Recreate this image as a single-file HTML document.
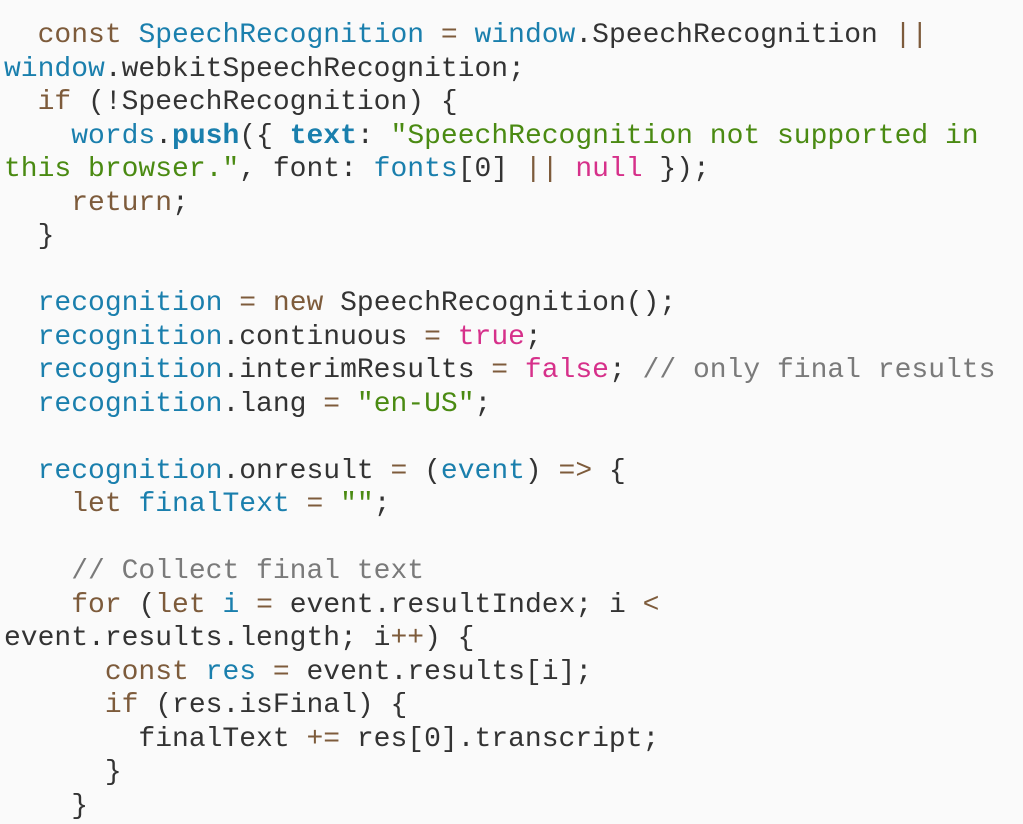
<!DOCTYPE html>
<html>
<head>
<meta charset="utf-8">
<style>
  html, body { margin: 0; padding: 0; }
  body {
    width: 1023px; height: 824px; overflow: hidden;
    background: #fafafa;
  }
  pre {
    margin: 0;
    position: absolute; left: 4px; top: 19px;
    font-family: "Liberation Mono", monospace;
    font-size: 28px;
    line-height: 33.52px;
    color: #333333;
    white-space: pre;
  }
  .k { color: #7d5b3b; }
  .b { color: #1a7fad; }
  .bb { color: #1a7fad; font-weight: bold; }
  .g { color: #4a8a12; }
  .p { color: #d6308a; }
  .c { color: #7a7a7a; }
</style>
</head>
<body>
<pre>  <span class="k">const</span> <span class="b">SpeechRecognition</span> <span class="k">=</span> <span class="b">window</span>.SpeechRecognition <span class="k">||</span>
<span class="b">window</span>.webkitSpeechRecognition;
  <span class="k">if</span> (!SpeechRecognition) {
    <span class="b">words</span>.<span class="bb">push</span>({ <span class="bb">text</span>: <span class="g">"SpeechRecognition not supported in</span>
<span class="g">this browser."</span>, font: <span class="b">fonts</span>[0] <span class="k">||</span> <span class="p">null</span> });
    <span class="k">return</span>;
  }

  <span class="b">recognition</span> <span class="k">=</span> <span class="k">new</span> SpeechRecognition();
  <span class="b">recognition</span>.continuous <span class="k">=</span> <span class="p">true</span>;
  <span class="b">recognition</span>.interimResults <span class="k">=</span> <span class="p">false</span>; <span class="c">// only final results</span>
  <span class="b">recognition</span>.lang <span class="k">=</span> <span class="g">"en-US"</span>;

  <span class="b">recognition</span>.onresult <span class="k">=</span> (<span class="b">event</span>) <span class="k">=&gt;</span> {
    <span class="k">let</span> <span class="b">finalText</span> <span class="k">=</span> <span class="g">""</span>;

    <span class="c">// Collect final text</span>
    <span class="k">for</span> (<span class="k">let</span> <span class="b">i</span> <span class="k">=</span> event.resultIndex; i <span class="k">&lt;</span>
event.results.length; i<span class="k">++</span>) {
      <span class="k">const</span> <span class="b">res</span> <span class="k">=</span> event.results[i];
      <span class="k">if</span> (res.isFinal) {
        finalText <span class="k">+=</span> res[0].transcript;
      }
    }</pre>
</body>
</html>
